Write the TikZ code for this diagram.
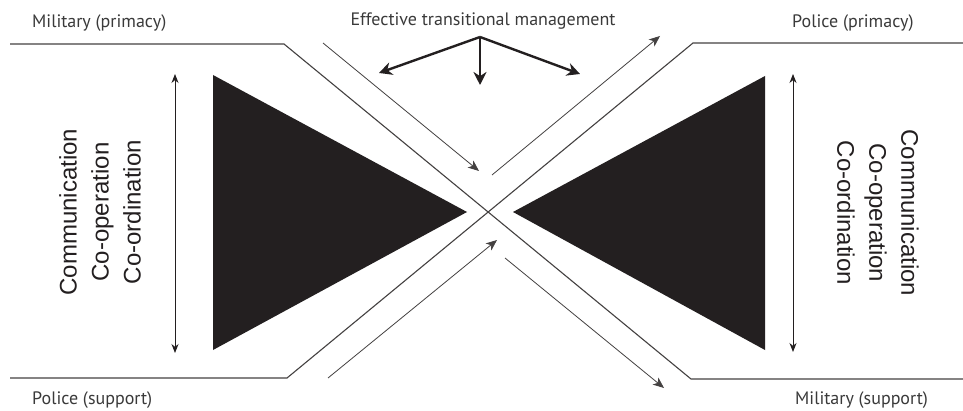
\documentclass[tikz,border=0pt]{standalone}
\usepackage{fontspec}
\setmainfont{PT Sans}
\newfontfamily\blockfont{Liberation Sans}
\usetikzlibrary{arrows.meta}
\definecolor{ink}{HTML}{231F20}
\definecolor{labelgray}{HTML}{3A3A3A}
\tikzset{
  guide/.style={draw=ink!85, line width=1.1pt},
  flow/.style={draw=ink!85, line width=0.8pt, -{Stealth[length=11pt,width=9pt,inset=3pt]}},
  span/.style={draw=ink, line width=0.9pt, {Stealth[length=9pt,width=7pt]}-{Stealth[length=9pt,width=7pt]}},
  push/.style={draw=ink, line width=2.4pt, -{Stealth[length=13pt,width=13pt]}},
  wedge/.style={fill=ink, draw=none},
  tag/.style={text=labelgray, font=\fontsize{18}{20}\selectfont, inner sep=0pt},
  block/.style={text=ink, font=\blockfont\fontsize{24}{32}\selectfont, align=center, inner sep=0pt}
}
\begin{document}
\begin{tikzpicture}[x=1pt, y=-1pt]
\useasboundingbox[fill=white] (0,0) rectangle (963,411);

% corridor outlines forming the X
\coordinate (tl0) at (10,44);   \coordinate (tl1) at (284,44);
\coordinate (br1) at (691,379); \coordinate (br0) at (963,379);
\coordinate (bl0) at (10,378);  \coordinate (bl1) at (287,378);
\coordinate (tr1) at (693,43);  \coordinate (tr0) at (963,43);
\draw[guide] (tl0) -- (tl1) -- (br1) -- (br0);
\draw[guide] (bl0) -- (bl1) -- (tr1) -- (tr0);

% flow arrows along the corridors
\coordinate (f1s) at (323,43);  \coordinate (f1e) at (479,171);
\coordinate (f2s) at (492,175); \coordinate (f2e) at (660,36);
\coordinate (f3s) at (328,378); \coordinate (f3e) at (497,240);
\coordinate (f4s) at (505,258); \coordinate (f4e) at (664,388);
\draw[flow] (f1s) -- (f1e);
\draw[flow] (f2s) -- (f2e);
\draw[flow] (f3s) -- (f3e);
\draw[flow] (f4s) -- (f4e);

% wedges
\fill[wedge] (213,75) -- (213,350) -- (467,212) -- cycle;
\fill[wedge] (765,76) -- (765,350) -- (513,212) -- cycle;

% vertical extent arrows
\coordinate (lv1) at (175,74);  \coordinate (lv2) at (175,353);
\coordinate (rv1) at (793,74);  \coordinate (rv2) at (793,352);
\draw[span] (lv1) -- (lv2);
\draw[span] (rv1) -- (rv2);

% management arrows
\coordinate (apex) at (480,37);
\coordinate (pl) at (379,73);
\coordinate (pd) at (480,85);
\coordinate (pr) at (580,74);
\draw[push] (apex) -- (pl);
\draw[push] (apex) -- (pd);
\draw[push] (apex) -- (pr);

% labels
\node[tag, anchor=base west] (milp) at (32,28) {Military (primacy)};
\node[tag, anchor=base] (etm) at (483,26) {Effective transitional management};
\node[tag, anchor=base west] (polp) at (792,28) {Police (primacy)};
\node[tag, anchor=base west] (pols) at (32,404) {Police (support)};
\node[tag, anchor=base west] (mils) at (795,404) {Military (support)};

\node[block, rotate=90] (lblock) at (100,212) {Communication\\Co-operation\\Co-ordination};
\node[block, rotate=-90] (rblock) at (878,213) {Communication\\Co-operation\\Co-ordination};
\end{tikzpicture}
\end{document}
